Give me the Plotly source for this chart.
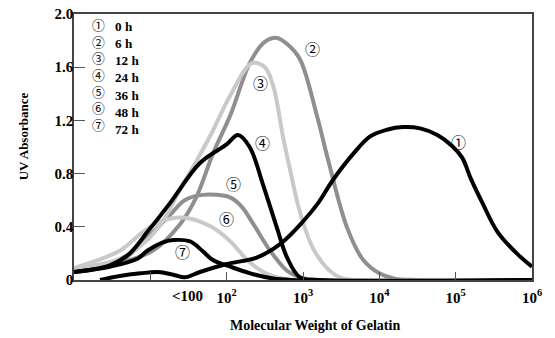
import plotly.graph_objects as go

# Molecular weight (x) and UV absorbance (y)
mw_0h = [2.19, 3.98, 7.41, 12.6, 20, 28.2, 44.7, 100, 251, 501, 1000, 1585, 2455, 4571, 7586, 12590, 20417, 34280, 57544, 89125, 121619, 158489, 223872, 354813, 630957, 1000000]
uv_0h = [0.0, 0.03, 0.05, 0.06, 0.04, 0.02, 0.06, 0.12, 0.17, 0.27, 0.44, 0.58, 0.75, 0.95, 1.08, 1.13, 1.15, 1.14, 1.09, 1.01, 0.92, 0.76, 0.58, 0.36, 0.20, 0.10]

mw_6h = [1, 3.98, 10.7, 24.5, 39.8, 66.1, 112, 204, 316, 457, 631, 912, 1514, 2138, 3802, 6166, 10000, 15849, 31623, 1000000]
uv_6h = [0.08, 0.13, 0.22, 0.42, 0.62, 0.95, 1.24, 1.64, 1.79, 1.82, 1.77, 1.66, 1.24, 0.90, 0.39, 0.15, 0.05, 0.01, 0.0, 0.0]

mw_12h = [1, 3.98, 9.12, 14.8, 24.5, 40.7, 61.7, 112, 214, 316, 407, 550, 676, 912, 1349, 2239, 3388, 6310, 1000000]
uv_12h = [0.09, 0.16, 0.30, 0.45, 0.68, 0.90, 1.09, 1.39, 1.63, 1.60, 1.46, 1.07, 0.83, 0.51, 0.24, 0.07, 0.01, 0.0, 0.0]

mw_24h = [1, 2.95, 5.37, 9.12, 18.2, 44.7, 100, 141, 200, 302, 457, 617, 912, 1585, 1000000]
uv_24h = [0.06, 0.11, 0.20, 0.36, 0.58, 0.88, 1.02, 1.09, 1.00, 0.71, 0.39, 0.17, 0.02, 0.0, 0.0]

mw_36h = [1, 3.98, 9.12, 18.2, 28.2, 47.9, 112, 158, 224, 372, 617, 912, 1585, 1000000]
uv_36h = [0.08, 0.14, 0.32, 0.49, 0.60, 0.64, 0.62, 0.55, 0.42, 0.22, 0.07, 0.02, 0.0, 0.0]

mw_48h = [1, 3.98, 7.94, 13.5, 26.9, 63.1, 112, 186, 302, 457, 794, 1000000]
uv_48h = [0.09, 0.22, 0.36, 0.44, 0.47, 0.40, 0.29, 0.15, 0.06, 0.02, 0.0, 0.0]

mw_72h = [1, 2.95, 6.76, 9.12, 14.1, 20, 33.1, 47.9, 66.1, 112, 204, 372, 708, 1000000]
uv_72h = [0.06, 0.10, 0.16, 0.22, 0.28, 0.30, 0.29, 0.22, 0.15, 0.10, 0.05, 0.015, 0.0, 0.0]

series_marks = ["①", "②", "③", "④", "⑤", "⑥", "⑦"]
series_times = ["0 h", "6 h", "12 h", "24 h", "36 h", "48 h", "72 h"]

x_tick_vals = [10, 100, 1000, 10000, 100000, 1000000]
x_tick_text = [" ", "10<sup>2</sup>", "10<sup>3</sup>", "10<sup>4</sup>", "10<sup>5</sup>", "10<sup>6</sup>"]
y_tick_vals = [0, 0.4, 0.8, 1.2, 1.6, 2.0]
y_tick_text = ["0", "0.4", "0.8", "1.2", "1.6", "2.0"]

BLACK = "#000000"
MID = "#8f8f8f"
LIGHT = "#c9c9c9"
SERIF = "Liberation Serif, Times New Roman, serif"
CIRC = "Noto Sans CJK JP, DejaVu Sans"

W, H = 555, 338
L, R, T, B = 74, 23, 6, 58
PW, PH = W - L - R, H - T - B


def px(xp):
    return (xp - L) / PW


def py(yp):
    return 1 - (yp - T) / PH


curves = [
    (mw_6h, uv_6h, MID),
    (mw_36h, uv_36h, MID),
    (mw_12h, uv_12h, LIGHT),
    (mw_48h, uv_48h, LIGHT),
    (mw_24h, uv_24h, BLACK),
    (mw_72h, uv_72h, BLACK),
    (mw_0h, uv_0h, BLACK),
]

fig = go.Figure()
for mw, uv, col in curves:
    fig.add_trace(go.Scatter(x=mw, y=uv, mode="lines",
                             line=dict(color=col, width=4, shape="spline", smoothing=1.0),
                             showlegend=False, hoverinfo="skip"))

ann = []
# curve labels (pixel positions)
label_px = [(458, 142), (312, 47), (260, 82), (262, 143), (233, 186), (226, 222), (182, 256)]
for (lx, ly), m in zip(label_px, series_marks):
    ann.append(dict(x=px(lx), y=py(ly - 5), xref="paper", yref="paper", text=m, showarrow=False,
                    xanchor="center", yanchor="middle", borderpad=0,
                    font=dict(family=CIRC, size=15, color="#000")))

# legend block in upper-left: one column of marks, one column of times
ann.append(dict(x=px(91), y=py(68), xref="paper", yref="paper", text="<br>".join(series_marks),
                showarrow=False, xanchor="left", yanchor="middle", align="left", borderpad=0,
                font=dict(family=CIRC, size=12.8, color="#000")))
ann.append(dict(x=px(114), y=py(72), xref="paper", yref="paper",
                text="<br>".join("<b>" + t + "</b>" for t in series_times),
                showarrow=False, xanchor="left", yanchor="middle", align="left", borderpad=0,
                font=dict(family=SERIF, size=13.2, color="#000")))

# "<100" label under the axis
ann.append(dict(x=px(187), y=py(296), xref="paper", yref="paper", text="<b>&lt;100</b>", showarrow=False,
                xanchor="center", yanchor="middle", font=dict(family=SERIF, size=15, color="#000")))
# axis titles
ann.append(dict(x=px(315), y=py(327), xref="paper", yref="paper",
                text="<b>Molecular Weight of Gelatin</b>", showarrow=False,
                xanchor="center", yanchor="middle", font=dict(family=SERIF, size=14, color="#000")))
ann.append(dict(x=px(23), y=py(132), xref="paper", yref="paper",
                text="<b>UV Absorbance</b>", showarrow=False, textangle=-90,
                xanchor="center", yanchor="middle", font=dict(family=SERIF, size=13, color="#000")))

fig.update_layout(
    width=W, height=H,
    margin=dict(l=L, r=R, t=T, b=B),
    paper_bgcolor="white", plot_bgcolor="white",
    annotations=ann,
    xaxis=dict(type="log", range=[0, 6], tickvals=x_tick_vals,
               ticktext=["<b>%s</b>" % s for s in x_tick_text],
               ticks="inside", ticklen=8, tickwidth=1, tickcolor="#555",
               showline=True, linecolor="#444", linewidth=1.5, mirror=True,
               showgrid=False, zeroline=False, ticklabelstandoff=3,
               tickfont=dict(family=SERIF, size=15, color="#000")),
    yaxis=dict(range=[0, 2.0], tickvals=y_tick_vals, ticktext=["<b>%s</b>" % s for s in y_tick_text],
               ticks="inside", ticklen=11, tickwidth=1, tickcolor="#555",
               showline=True, linecolor="#444", linewidth=1.5, mirror=True,
               showgrid=False, zeroline=False, ticklabelstandoff=-4,
               tickfont=dict(family=SERIF, size=15, color="#000")),
)

fig.write_html("out.html")
